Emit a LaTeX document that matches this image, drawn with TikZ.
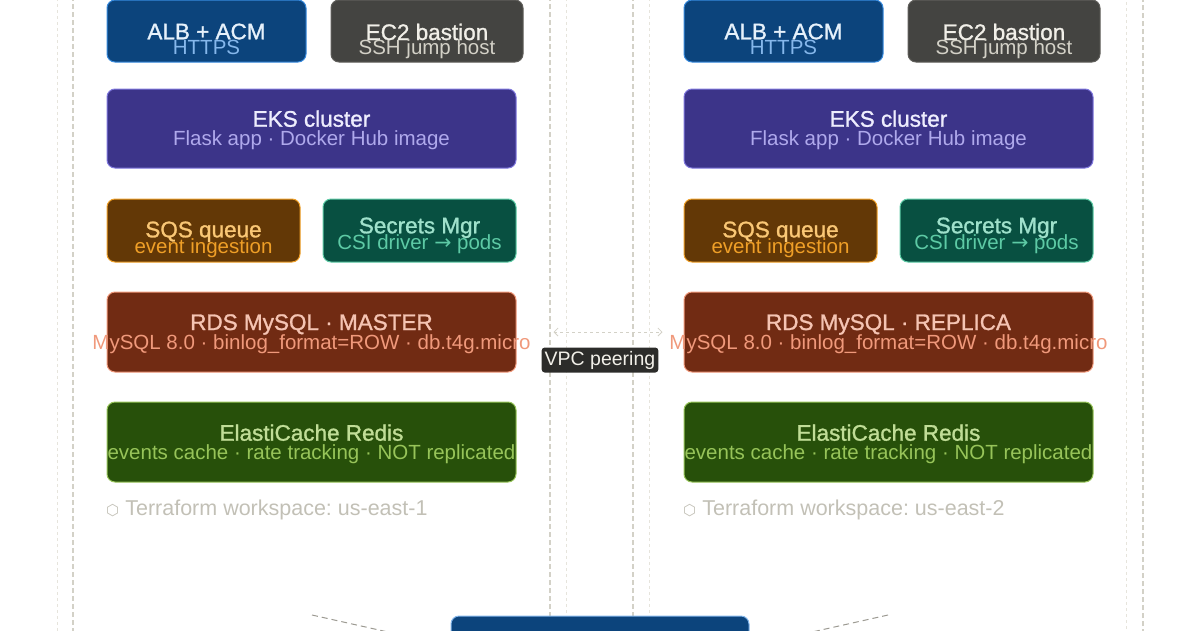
\documentclass[tikz,border=0pt]{standalone}
\usepackage{fontspec}
\setmainfont{Liberation Sans}
\newfontfamily\ttlfont{Liberation Sans}[FakeBold=1.2]
\newfontfamily\symfont{DejaVu Sans}
\usetikzlibrary{arrows.meta}
\frenchspacing

\definecolor{albFill}{HTML}{0C447C}\definecolor{albLine}{HTML}{378ADD}
\definecolor{albTtl}{HTML}{E6F1FB}\definecolor{albSub}{HTML}{85B7EB}
\definecolor{ecFill}{HTML}{444441}\definecolor{ecLine}{HTML}{5F5E5A}
\definecolor{ecTtl}{HTML}{F1EFE8}\definecolor{ecSub}{HTML}{D3D1C7}
\definecolor{eksFill}{HTML}{3C3489}\definecolor{eksLine}{HTML}{7F77DD}
\definecolor{eksTtl}{HTML}{EEEDFE}\definecolor{eksSub}{HTML}{AFA9EC}
\definecolor{sqsFill}{HTML}{633806}\definecolor{sqsLine}{HTML}{EF9F27}
\definecolor{sqsTtl}{HTML}{FAC775}\definecolor{sqsSub}{HTML}{EF9F27}
\definecolor{secFill}{HTML}{085041}\definecolor{secLine}{HTML}{5DCAA5}
\definecolor{secTtl}{HTML}{9FE1CB}\definecolor{secSub}{HTML}{5DCAA5}
\definecolor{rdsFill}{HTML}{712B13}\definecolor{rdsLine}{HTML}{F0997B}
\definecolor{rdsTtl}{HTML}{F5C4B3}\definecolor{rdsSub}{HTML}{F0997B}
\definecolor{redFill}{HTML}{27500A}\definecolor{redLine}{HTML}{97C459}
\definecolor{redTtl}{HTML}{C0DD97}\definecolor{redSub}{HTML}{97C459}
\definecolor{frameLine}{HTML}{D3D1C7}\definecolor{frameFaint}{HTML}{E6E4DC}
\definecolor{noteText}{HTML}{C2C0B6}\definecolor{tagFill}{HTML}{2C2C2A}
\definecolor{legLine}{HTML}{9C9A92}

\begin{document}
\begin{tikzpicture}[
    x=1pt, y=-1pt,
    box/.style={draw, rounded corners=8pt, line width=1pt, inner sep=0pt},
    ttl/.style={anchor=base, inner sep=0pt, font=\ttlfont\fontsize{22.5}{24}\selectfont},
    sub/.style={anchor=base, inner sep=0pt, font=\fontsize{20.5}{22}\selectfont},
    frame/.style={draw=frameLine, line width=1.2pt, dash pattern=on 5pt off 3pt},
    faint/.style={draw=frameFaint, line width=1pt, dash pattern=on 3pt off 3pt},
    leg/.style={draw=legLine, line width=1pt, dash pattern=on 6pt off 4pt},
    peer/.style={draw=frameLine, line width=0.8pt, dash pattern=on 3pt off 3pt,
        {Straight Barb[length=4pt]}-{Straight Barb[length=4pt]}}
]
\useasboundingbox (0,0) rectangle (1200,630);

% region frames
\draw[faint] (57,-20) rectangle (566,660);
\draw[frame] (73,-20) rectangle (550,660);
\draw[frame] (633,-20) rectangle (1143,660);
\draw[faint] (649,-20) rectangle (1126,660);

\foreach \r/\dx/\role/\ws in {L/0/MASTER/us-east-1, R/577/REPLICA/us-east-2} {
\begin{scope}[xshift=\dx pt]
    \node[box, fill=albFill, draw=albLine, minimum width=199pt, minimum height=62pt] (alb\r) at (206.5,31) {};
    \node[ttl, text=albTtl] (albT\r) at (206.5,39.3) {ALB + ACM};
    \node[sub, text=albSub] (albS\r) at (206.5,54) {HTTPS};

    \node[box, fill=ecFill, draw=ecLine, minimum width=192pt, minimum height=62pt] (ec\r) at (427,31) {};
    \node[ttl, text=ecTtl] (ecT\r) at (427,40) {EC2 bastion};
    \node[sub, text=ecSub] (ecS\r) at (427,54) {SSH jump host};

    \node[box, fill=eksFill, draw=eksLine, minimum width=409pt, minimum height=79pt] (eks\r) at (311.5,128.5) {};
    \node[ttl, text=eksTtl] (eksT\r) at (311.5,126.7) {EKS cluster};
    \node[sub, text=eksSub] (eksS\r) at (311.5,145.7) {Flask app · Docker Hub image};

    \node[box, fill=sqsFill, draw=sqsLine, minimum width=193pt, minimum height=63pt] (sqs\r) at (203.5,230.5) {};
    \node[ttl, text=sqsTtl] (sqsT\r) at (203.5,237.3) {SQS queue};
    \node[sub, text=sqsSub] (sqsS\r) at (203.5,253) {event ingestion};

    \node[box, fill=secFill, draw=secLine, minimum width=193pt, minimum height=63pt] (sec\r) at (419.5,230.5) {};
    \node[ttl, text=secTtl] (secT\r) at (419.5,233.3) {Secrets Mgr};
    \node[sub, text=secSub] (secS\r) at (419.5,249.3) {CSI driver {\symfont →} pods};

    \node[box, fill=rdsFill, draw=rdsLine, minimum width=409pt, minimum height=80pt] (rds\r) at (311.5,332) {};
    \node[ttl, text=rdsTtl] (rdsT\r) at (311.5,330) {RDS MySQL · \role};
    \node[sub, text=rdsSub] (rdsS\r) at (311.5,349) {MySQL 8.0 · binlog\_format=ROW · db.t4g.micro};

    \node[box, fill=redFill, draw=redLine, minimum width=409pt, minimum height=80pt] (red\r) at (311.5,442) {};
    \node[ttl, text=redTtl] (redT\r) at (311.5,440.7) {ElastiCache Redis};
    \node[sub, text=redSub] (redS\r) at (311.5,459) {events cache · rate tracking · NOT replicated};

    \node[sub, anchor=base west, text=noteText, font=\fontsize{21.5}{23}\selectfont] (ws\r) at (106,515)
        {{\symfont\fontsize{15}{16}\selectfont ⬡}\hspace{6pt}Terraform workspace: \ws};
\end{scope}
}

% global entry box below the regions
\node[box, fill=albFill, draw=albSub, minimum width=298pt, minimum height=60pt] (gbl) at (600,646) {};
\coordinate (legL) at (312,615);
\coordinate (legR) at (888,615);
\draw[leg] (legL) -- (gbl.west);
\draw[leg] (legR) -- (gbl.east);

% cross-region peering
\draw[peer, shorten <=37pt, shorten >=21pt] (rdsL.east) -- (rdsR.west);
\node[fill=tagFill, text=ecTtl, rounded corners=3pt, inner xsep=3pt, inner ysep=3.5pt,
      text height=14pt, text depth=4pt, font=\fontsize{19.5}{21}\selectfont] (peerTag) at (600,360) {VPC peering};

\end{tikzpicture}
\end{document}
